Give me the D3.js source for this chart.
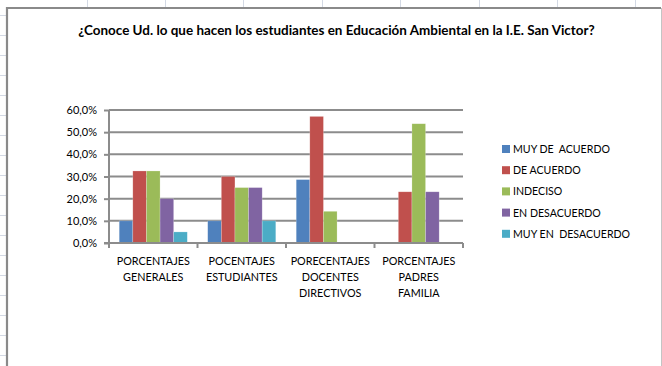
<!DOCTYPE html>
<html>
<head>
<meta charset="utf-8">
<script src="https://cdn.jsdelivr.net/npm/d3@7"></script>
<style>
  html, body { margin: 0; padding: 0; background: #fff; }
  svg { display: block; }
  text { font-family: Lato, "Open Sans", sans-serif; fill: #000; }
</style>
</head>
<body>
<svg id="chart" width="662" height="366"></svg>
<script>
// ---- data ----
const title = "¿Conoce Ud. lo que hacen los estudiantes en Educación Ambiental en la I.E. San Victor?";
const categories = [
  "PORCENTAJES\nGENERALES",
  "POCENTAJES\nESTUDIANTES",
  "PORECENTAJES\nDOCENTES\nDIRECTIVOS",
  "PORCENTAJES\nPADRES\nFAMILIA"
];
const seriesNames = ["MUY DE  ACUERDO", "DE ACUERDO", "INDECISO", "EN DESACUERDO", "MUY EN  DESACUERDO"];
const seriesColors = ["#4F81BD", "#C0504D", "#9BBB59", "#8064A2", "#4BACC6"];
// one array per series, one value per category (null = no bar)
const muyDeAcuerdo    = [0.10,  0.10, 0.286, null];
const deAcuerdo       = [0.325, 0.30, 0.571, 0.231];
const indeciso        = [0.325, 0.25, 0.143, 0.538];
const enDesacuerdo    = [0.20,  0.25, null,  0.231];
const muyEnDesacuerdo = [0.05,  0.10, null,  null];
const seriesValues = [muyDeAcuerdo, deAcuerdo, indeciso, enDesacuerdo, muyEnDesacuerdo];
const yTicks = [0, 0.1, 0.2, 0.3, 0.4, 0.5, 0.6];

const svg = d3.select("#chart");
const W = 662, H = 366;

// ---- spreadsheet cells behind the chart ----
const cellCols = d3.range(8).map(i => 86.5 + i * 78.4);
const cellRows = d3.range(18).map(i => 15 + i * 20);
const sheet = svg.append("g").attr("stroke", "#d3d9e4").attr("stroke-width", 1);
sheet.selectAll("line.c").data(cellCols).join("line").attr("class", "c")
  .attr("x1", d => Math.round(d) + 0.5).attr("x2", d => Math.round(d) + 0.5)
  .attr("y1", 0).attr("y2", 7);
sheet.selectAll("line.r").data(cellRows).join("line").attr("class", "r")
  .attr("x1", 0).attr("x2", 6).attr("y1", d => d + 0.5).attr("y2", d => d + 0.5);

// ---- chart frame ----
svg.append("rect").attr("x", 7).attr("y", 8).attr("width", 654).attr("height", H)
  .attr("fill", "#fff");
svg.append("line").attr("x1", 661.5).attr("x2", 661.5).attr("y1", 8).attr("y2", H)
  .attr("stroke", "#c4c4c4").attr("stroke-width", 1);
svg.append("path").attr("d", `M7,${H} V8 H661`)
  .attr("fill", "none").attr("stroke", "#8a8a8a").attr("stroke-width", 2.2);

// ---- title ----
const titleText = svg.append("text")
  .attr("x", 336.5).attr("y", 34.5)
  .attr("text-anchor", "middle")
  .attr("font-weight", "bold")
  .attr("font-size", 13)
  .text(title);
// fit the title to its box width
const tw = titleText.node().getComputedTextLength();
titleText.attr("font-size", 13 * 517 / tw);

// ---- scales ----
const plot = { left: 109, right: 463, top: 110, bottom: 243 };
const x = d3.scaleBand().domain(categories).range([plot.left, plot.right]).paddingInner(0).paddingOuter(0);
const bw = x.bandwidth();
const barW = bw / (seriesNames.length + 1.5);
const xs = d3.scaleBand().domain(d3.range(seriesNames.length))
  .range([barW * 0.75, bw - barW * 0.75]).paddingInner(0).paddingOuter(0);
const y = d3.scaleLinear().domain([0, 0.6]).range([plot.bottom, plot.top]);
const pct = v => (v * 100).toFixed(1).replace(".", ",") + "%";

// ---- gridlines ----
svg.append("g").selectAll("line").data(yTicks.slice(1)).join("line")
  .attr("x1", plot.left).attr("x2", plot.right)
  .attr("y1", d => y(d)).attr("y2", d => y(d))
  .attr("stroke", "#8c8c8c").attr("stroke-width", 2);

// ---- bars ----
const bars = [];
seriesValues.forEach((vals, s) => vals.forEach((v, c) => {
  if (v != null) bars.push({ s, c, v });
}));
svg.append("g").selectAll("rect").data(bars).join("rect")
  .attr("x", d => x(categories[d.c]) + xs(d.s))
  .attr("y", d => y(d.v))
  .attr("width", xs.bandwidth())
  .attr("height", d => y(0) - y(d.v))
  .attr("fill", d => seriesColors[d.s])
  .attr("stroke", "rgba(255,255,255,0.35)")
  .attr("stroke-width", 0.6);

// ---- y axis ----
const yAxis = d3.axisLeft(y).tickValues(yTicks).tickFormat(pct).tickSize(5).tickPadding(7);
const gy = svg.append("g").attr("transform", `translate(${plot.left},0)`).call(yAxis);
gy.select(".domain").attr("stroke", "#8c8c8c").attr("stroke-width", 2)
  .attr("d", `M0,${plot.top}V${plot.bottom}`);
gy.selectAll(".tick line").attr("stroke", "#8c8c8c").attr("stroke-width", 2);
gy.selectAll(".tick text").attr("font-size", 11).attr("font-family", "Lato, sans-serif")
  .attr("fill", "#111");

// ---- x axis ----
const gx = svg.append("g").attr("transform", `translate(0,${plot.bottom})`);
gx.append("line").attr("x1", plot.left - 5).attr("x2", plot.right)
  .attr("y1", 0).attr("y2", 0).attr("stroke", "#8c8c8c").attr("stroke-width", 2);
const bounds = categories.map(c => x(c)).concat([plot.right]);
gx.selectAll("line.tk").data(bounds).join("line").attr("class", "tk")
  .attr("x1", d => d).attr("x2", d => d).attr("y1", 0).attr("y2", 5)
  .attr("stroke", "#8c8c8c").attr("stroke-width", 2);
const labels = gx.selectAll("text.cat").data(categories).join("text").attr("class", "cat")
  .attr("text-anchor", "middle").attr("font-size", 10.8).attr("fill", "#111");
labels.selectAll("tspan").data(d => d.split("\n").map(t => ({ t, cat: d }))).join("tspan")
  .attr("x", d => x(d.cat) + bw / 2)
  .attr("y", (d, i) => 21.5 + i * 16)
  .text(d => d.t);

// ---- legend ----
const legend = svg.append("g").attr("transform", "translate(502,149)");
const li = legend.selectAll("g").data(seriesNames).join("g")
  .attr("transform", (d, i) => `translate(0,${i * 21.2})`);
li.append("rect").attr("x", 0).attr("y", -4).attr("width", 8).attr("height", 8)
  .attr("fill", (d, i) => seriesColors[i]);
li.append("text").attr("x", 11).attr("y", 4).attr("font-size", 10.6).attr("fill", "#111")
  .attr("xml:space", "preserve").style("white-space", "pre")
  .text(d => d);
</script>
</body>
</html>
